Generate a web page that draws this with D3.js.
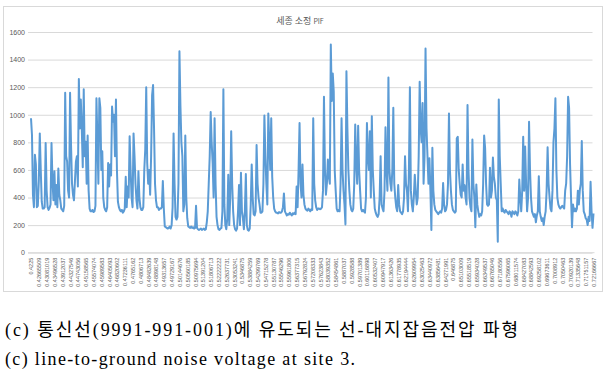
<!DOCTYPE html>
<html>
<head>
<meta charset="utf-8">
<script src="https://cdn.jsdelivr.net/npm/d3@7"></script>
<style>
  body { margin: 0; background: #fff; }
  svg { display: block; }
  .tick-label { font-family: "Liberation Sans", Arial, sans-serif; fill: #595959; }
  .caption { font-family: "Liberation Serif", "Noto Sans CJK KR", serif; fill: #000; }
</style>
</head>
<body>
<div id="chart"></div>
<script>
const width = 610;
const height = 374;

const chartTitle = "세종 소정 ";
const chartTitleSuffix = "PIF";

const yTicks = [0, 200, 400, 600, 800, 1000, 1200, 1400, 1600];

// measured noise voltage, one value per sample
const voltage = [
  975, 855, 420, 330, 710, 640, 330, 340, 520, 865,
  600, 370, 320, 320, 330, 795, 450, 330, 310, 325,
  350, 795, 520, 380, 590, 350, 490, 330, 610, 420,
  380, 320, 310, 300, 340, 1160, 700, 660, 450, 400,
  1160, 780, 500, 420, 380, 520, 660, 700, 480, 1260,
  900, 1110, 900, 620, 1185, 700, 805, 500, 850, 450,
  320, 300, 300, 310, 295, 300, 340, 1120, 820, 500,
  1120, 1050, 600, 735, 400, 330, 310, 300, 330, 650,
  480, 640, 560, 1060, 950, 1000, 700, 1110, 600, 370,
  330, 310, 300, 310, 290, 300, 320, 550, 330, 480,
  400, 845, 600, 400, 330, 865, 700, 500, 380, 320,
  590, 400, 330, 310, 310, 330, 600, 750, 1200, 650,
  500, 600, 420, 700, 1140, 1215, 900, 500, 380, 330,
  330, 310, 320, 320, 330, 520, 320, 190, 185, 180,
  175, 180, 190, 175, 200, 330, 865, 500, 260, 240,
  260, 500, 1460, 1070, 800, 700, 300, 350, 850, 400,
  250, 190, 185, 180, 190, 180, 185, 175, 180, 340,
  180, 170, 165, 170, 175, 165, 170, 175, 165, 170,
  220, 300, 500, 700, 1020, 800, 650, 400, 975, 500,
  260, 200, 170, 165, 175, 180, 300, 1185, 350, 200,
  170, 250, 565, 200, 400, 880, 500, 300, 200, 170,
  160, 175, 300, 490, 200, 580, 300, 250, 170, 300,
  570, 200, 165, 160, 175, 350, 640, 400, 280, 270,
  300, 780, 500, 400, 350, 290, 290, 300, 500, 995,
  700, 500, 350, 1010, 800, 600, 975, 550, 400, 320,
  300, 290, 290, 285, 295, 290, 290, 300, 330, 430,
  300, 285, 270, 280, 275, 290, 280, 270, 285, 280,
  290, 280, 480, 330, 600, 940, 500, 400, 640, 420,
  350, 320, 310, 305, 320, 310, 300, 315, 310, 975,
  500, 380, 330, 310, 320, 320, 315, 320, 330, 450,
  1130, 600, 420, 500, 675, 550, 500, 1510, 1100, 1300,
  1170, 600, 450, 320, 300, 310, 300, 500, 975, 600,
  450, 350, 205, 1315, 900, 600, 450, 350, 310, 300,
  320, 500, 930, 650, 500, 920, 600, 450, 320, 300,
  310, 300, 290, 400, 940, 700, 600, 880, 400, 990,
  600, 450, 320, 290, 270, 260, 280, 400, 700, 350,
  320, 300, 450, 910, 600, 450, 1270, 600, 500, 450,
  600, 1050, 500, 400, 330, 300, 490, 350, 300, 290,
  280, 300, 400, 700, 500, 450, 300, 600, 1200, 450,
  350, 300, 400, 565, 450, 350, 400, 700, 1240, 900,
  800, 1085, 500, 700, 1480, 900, 700, 500, 685, 450,
  165, 760, 450, 350, 310, 300, 290, 280, 290, 300,
  290, 320, 505, 350, 300, 310, 350, 500, 1010, 600,
  450, 350, 310, 300, 290, 300, 830, 840, 600, 500,
  420, 400, 640, 450, 490, 400, 350, 1070, 600, 400,
  330, 300, 820, 500, 400, 185, 495, 350, 300, 260,
  280, 270, 300, 500, 850, 760, 500, 350, 340, 350,
  615, 400, 450, 690, 550, 500, 400, 380, 80, 1110,
  700, 500, 300, 320, 300, 290, 310, 300, 290, 280,
  300, 290, 260, 300, 290, 280, 300, 290, 270, 300,
  530, 400, 300, 450, 840, 450, 770, 500, 300, 400,
  950, 600, 400, 300, 280, 260, 280, 220, 270, 300,
  555, 300, 260, 230, 250, 200, 260, 300, 450, 765,
  500, 400, 320, 300, 450, 800, 900, 1120, 600, 400,
  350, 330, 320, 330, 340, 330, 320, 450, 500, 700,
  1130, 1050, 640, 400, 185, 350, 300, 320, 300, 320,
  450, 350, 455, 500, 810, 450, 300, 280, 250, 240,
  200, 260, 230, 515, 300, 180, 285
];

// category labels shown on the x axis (time of day)
const timeLabels = [
  "0.4225", "0.42665509", "0.43081019", "0.43496528", "0.43912037", "0.44327546",
  "0.44743056", "0.45158565", "0.45574074", "0.45989583", "0.46405093", "0.46820602",
  "0.47236111", "0.4765162", "0.4806713", "0.48482639", "0.48898148", "0.49313657",
  "0.49729167", "0.50144676", "0.50560185", "0.50975694", "0.51391204", "0.51806713",
  "0.52222222", "0.52637731", "0.53053241", "0.5346875", "0.53884259", "0.54299769",
  "0.54715278", "0.55130787", "0.55546296", "0.55961806", "0.56377315", "0.56792824",
  "0.57208333", "0.57623843", "0.58039352", "0.58454861", "0.5887037", "0.5928588",
  "0.59701389", "0.60116898", "0.60532407", "0.60947917", "0.61363426", "0.61778935",
  "0.62194444", "0.62609954", "0.63025463", "0.63440972", "0.63856481", "0.64271991",
  "0.646875", "0.65103009", "0.65518519", "0.65934028", "0.66349537", "0.66765046",
  "0.67180556", "0.67596065", "0.68011574", "0.68427083", "0.68842593", "0.69258102",
  "0.69673611", "0.7008912", "0.7050463", "0.70920139", "0.71335648", "0.71751157",
  "0.72166667"
];

const captionKo = "(c) 통신선(9991-991-001)에 유도되는 선-대지잡음전압 파형";
const captionEn = "(c) line-to-ground noise voltage at site 3.";

const plot = { left: 31, right: 593.5, top: 32, bottom: 252.7 };

const svg = d3.select("#chart")
  .append("svg")
  .attr("width", width)
  .attr("height", height);

// chart frame
svg.append("rect")
  .attr("x", 3.5)
  .attr("y", 6.5)
  .attr("width", 599)
  .attr("height", 285)
  .attr("fill", "#fff")
  .attr("stroke", "#d9d9d9")
  .attr("stroke-width", 1);

const xScale = d3.scaleLinear()
  .domain([0, voltage.length - 1])
  .range([plot.left, plot.right]);

const yScale = d3.scaleLinear()
  .domain([0, 1600])
  .range([plot.bottom, plot.top]);

// gridlines + y labels
const leftAxis = d3.axisLeft(yScale)
  .tickValues(yTicks)
  .tickFormat(d3.format("d"))
  .tickSize(-(plot.right - plot.left + 2))
  .tickPadding(6);

const yAxis = svg.append("g")
  .attr("transform", `translate(${plot.left - 3},0)`)
  .call(leftAxis);
yAxis.select(".domain").remove();
yAxis.selectAll("line").attr("stroke", "#d9d9d9").attr("stroke-width", 1);
yAxis.selectAll("text")
  .attr("class", "tick-label")
  .attr("font-size", 7)
  .attr("x", -3);

// x axis with rotated time labels
const step = (voltage.length - 1) / (timeLabels.length - 1);
const bottomAxis = d3.axisBottom(xScale)
  .tickValues(timeLabels.map((d, i) => i * step))
  .tickFormat((d, i) => timeLabels[i])
  .tickSize(0)
  .tickPadding(4);

const xAxis = svg.append("g")
  .attr("transform", `translate(0,${plot.bottom})`)
  .call(bottomAxis);
xAxis.select(".domain")
  .attr("stroke", "#d9d9d9")
  .attr("d", `M${plot.left - 3},0H${plot.right + 1}`);
xAxis.selectAll("text")
  .attr("class", "tick-label")
  .attr("font-size", 5.5)
  .attr("text-anchor", "end")
  .attr("dy", "0.35em")
  .attr("transform", "rotate(-90)")
  .attr("x", -5)
  .attr("y", 0);

// the voltage trace
const line = d3.line()
  .x((d, i) => xScale(i))
  .y(d => yScale(d));

svg.append("path")
  .datum(voltage)
  .attr("d", line)
  .attr("fill", "none")
  .attr("stroke", "#5b9bd5")
  .attr("stroke-width", 2)
  .attr("stroke-linejoin", "round");

// title
const title = svg.append("text")
  .attr("x", 300)
  .attr("y", 24)
  .attr("text-anchor", "middle")
  .attr("font-family", "'Noto Sans CJK KR', sans-serif")
  .attr("font-size", 9)
  .attr("fill", "#595959");
title.append("tspan").text(chartTitle);
title.append("tspan").attr("font-size", 7).text(chartTitleSuffix);

// captions below the chart
svg.append("text")
  .attr("class", "caption")
  .attr("x", 5)
  .attr("y", 336)
  .attr("font-size", 18)
  .attr("textLength", 513)
  .attr("lengthAdjust", "spacing")
  .text(captionKo);

svg.append("text")
  .attr("class", "caption")
  .attr("x", 5)
  .attr("y", 365)
  .attr("font-size", 18)
  .attr("textLength", 350)
  .attr("lengthAdjust", "spacing")
  .text(captionEn);
</script>
</body>
</html>
